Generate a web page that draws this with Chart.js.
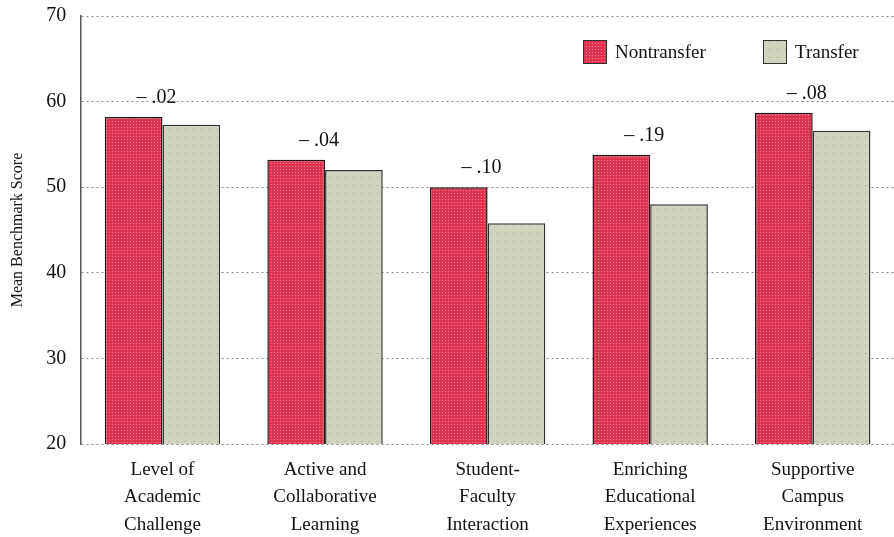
<!DOCTYPE html>
<html><head><meta charset="utf-8">
<script src="https://cdn.jsdelivr.net/npm/chart.js@4.4.0/dist/chart.umd.min.js"></script>
<style>html,body{margin:0;padding:0;background:#fff;}canvas{display:block;}</style>
</head><body>
<canvas id="c" width="894" height="537"></canvas>
<script>
const categories = [
  ["Level of","Academic","Challenge"],
  ["Active and","Collaborative","Learning"],
  ["Student-","Faculty","Interaction"],
  ["Enriching","Educational","Experiences"],
  ["Supportive","Campus","Environment"]
];
const nontransfer = [58.2, 53.2, 50.0, 53.8, 58.7];
const transfer = [57.3, 52.0, 45.8, 48.0, 56.6];
const effectSizes = ["\u2013 .02", "\u2013 .04", "\u2013 .10", "\u2013 .19", "\u2013 .08"];
const seriesNames = ["Nontransfer", "Transfer"];

function makePattern(base, dot, step) {
  const c = document.createElement('canvas');
  c.width = step; c.height = step;
  const x = c.getContext('2d');
  x.fillStyle = base; x.fillRect(0,0,step,step);
  x.fillStyle = dot; x.fillRect(1,1,1,1);
  return document.getElementById('c').getContext('2d').createPattern(c,'repeat');
}
const redFill = makePattern('#dc3450', '#ee8094', 3);
const greenFill = makePattern('#cfd3bf', '#9a9e8c', 8);
const FONT = "'Liberation Serif','DejaVu Serif',serif";

const labelPlugin = {
  id: 'effectLabels',
  afterDatasetsDraw(chart) {
    const ctx = chart.ctx;
    const meta = chart.getDatasetMeta(0);
    ctx.save();
    ctx.fillStyle = '#111';
    ctx.font = "20px " + FONT;
    ctx.textAlign = 'center';
    ctx.textBaseline = 'middle';
    meta.data.forEach((bar, i) => {
      const cx = chart.scales.x.getPixelForValue(i) - 6;
      ctx.fillText(effectSizes[i], cx, bar.y - 19);
    });
    // legend
    const items = [[redFill, seriesNames[0], 583], [greenFill, seriesNames[1], 763]];
    ctx.textAlign = 'left';
    ctx.font = "19px " + FONT;
    items.forEach(([fill, name, x]) => {
      ctx.fillStyle = fill;
      ctx.fillRect(x, 40, 24, 24);
      ctx.strokeStyle = '#333';
      ctx.lineWidth = 1;
      ctx.strokeRect(x + 0.5, 40.5, 23, 23);
      ctx.fillStyle = '#111';
      ctx.fillText(name, x + 32, 53);
    });
    ctx.restore();
  }
};

new Chart(document.getElementById('c'), {
  type: 'bar',
  data: {
    labels: categories,
    datasets: [
      { label: seriesNames[0], data: nontransfer, backgroundColor: redFill, borderColor: '#2a1518', borderWidth: 1.5 },
      { label: seriesNames[1], data: transfer, backgroundColor: greenFill, borderColor: '#333', borderWidth: 1.5 }
    ]
  },
  options: {
    responsive: false,
    animation: false,
    layout: { padding: { top: 0, right: 0, left: 8, bottom: 0 } },
    plugins: { legend: { display: false }, tooltip: { enabled: false } },
    datasets: { bar: { categoryPercentage: 0.71, barPercentage: 1.0 } },
    scales: {
      x: {
        grid: { display: false },
        border: { display: false },
        ticks: { color: '#111', font: { family: FONT, size: 19, lineHeight: 1.45 }, padding: 4, maxRotation: 0, autoSkip: false },
        afterFit(scale) { scale.height = 93; }
      },
      y: {
        min: 20, max: 70,
        ticks: { stepSize: 10, color: '#111', font: { family: FONT, size: 20, lineHeight: 0.6 }, padding: 15 },
        grid: { color: '#888', lineWidth: 1, drawTicks: false },
        border: { display: true, color: '#555', width: 1.5, dash: [2, 3] },
        title: { display: true, text: 'Mean Benchmark Score', color: '#111', font: { family: FONT, size: 16 }, padding: { top: 0, bottom: 4 } },
        afterFit(scale) { scale.paddingTop = 16; }
      }
    }
  },
  plugins: [labelPlugin]
});
</script>
</body></html>
